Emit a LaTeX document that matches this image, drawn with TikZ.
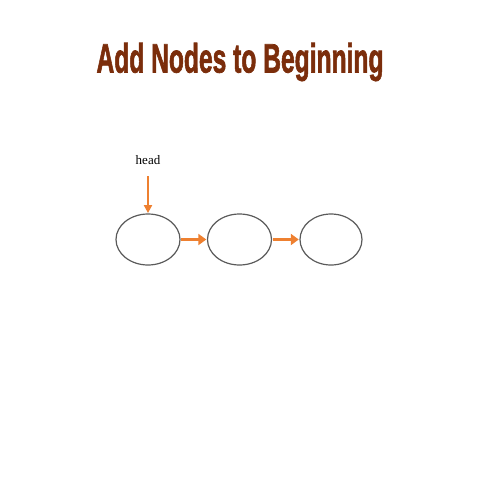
\documentclass[tikz,border=0pt]{standalone}
\usepackage{fontspec}
\setmainfont{Liberation Serif}
\newfontfamily\titlefont[FakeBold=2]{Liberation Sans Bold}
\usetikzlibrary{arrows.meta,shapes.geometric}
\definecolor{titlebrown}{HTML}{7B2D0B}
\definecolor{arroworange}{HTML}{EE8030}
\definecolor{nodegray}{HTML}{5A5A5A}
\tikzset{
  listnode/.style={draw=nodegray, line width=1.2pt, ellipse, minimum width=64pt, minimum height=51pt, inner sep=0pt},
  nextarrow/.style={draw=arroworange, line width=3.6pt, -{Triangle[length=8pt,width=11pt]}, shorten <=0.6pt, shorten >=0.6pt},
  headarrow/.style={draw=arroworange, line width=2.2pt, -{Triangle[length=8pt,width=8pt]}, shorten >=0.3pt},
}
\begin{document}
\begin{tikzpicture}[x=1pt,y=-1pt]
\useasboundingbox (0,0) rectangle (480,480);
\node[inner sep=0pt, text=titlebrown] (title) at (240,62) {\scalebox{0.6}[1]{\titlefont\fontsize{41}{41}\selectfont Add Nodes to Beginning}};
\node[listnode] (n1) at (148,239.5) {};
\node[listnode] (n2) at (239.5,239.5) {};
\node[listnode, minimum width=62pt] (n3) at (331,239.5) {};
\node[inner sep=0pt, font=\fontsize{13}{13}\selectfont] (head) at (148,160) {head};
\coordinate (headstart) at (148,176);
\draw[nextarrow] (n1.east) -- (n2.west);
\draw[nextarrow] (n2.east) -- (n3.west);
\draw[headarrow] (headstart) -- (n1.north);
\end{tikzpicture}
\end{document}
